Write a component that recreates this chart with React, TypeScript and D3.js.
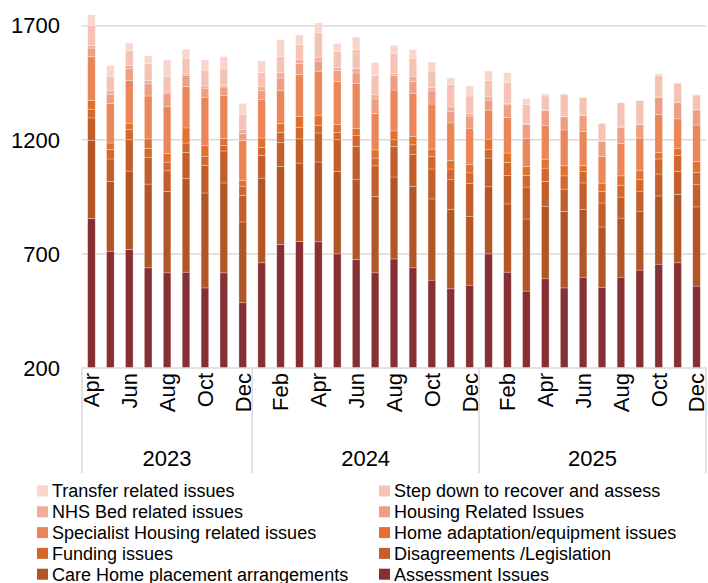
import React from "react";
import * as d3 from "d3";

const months = ["Apr","May","Jun","Jul","Aug","Sep","Oct","Nov","Dec",
  "Jan","Feb","Mar","Apr","May","Jun","Jul","Aug","Sep","Oct","Nov","Dec",
  "Jan","Feb","Mar","Apr","May","Jun","Jul","Aug","Sep","Oct","Nov","Dec"];
const years = [{ label: "2023", count: 9 }, { label: "2024", count: 12 }, { label: "2025", count: 12 }];
const yTicks = [200, 700, 1200, 1700];

const assessment = [855,712,719,639,617,620,551,617,486, 661,741,755,753,700,675,617,678,639,585,547,563, 700,620,537,591,551,598,554,598,629,655,661,559];
const careHome = [343,306,344,367,357,410,416,394,354, 371,343,343,350,362,350,335,359,357,356,347,302, 294,299,316,318,335,296,264,259,258,299,300,347];
const disagreements = [98,98,137,118,90,115,120,140,117, 100,105,106,127,138,146,134,134,141,131,131,143, 126,125,140,109,98,117,105,92,88,96,101,97];
const funding = [36,41,44,39,38,41,41,25,40, 35,44,51,34,32,47,34,29,41,55,47,47, 39,57,51,58,58,51,51,52,51,66,70,55];
const homeAdapt = [41,29,29,41,39,66,48,29,26, 41,38,47,44,36,31,36,39,37,32,37,37, 44,41,39,39,44,25,36,41,38,29,29,47];
const specialist = [192,174,187,188,204,182,211,190,174, 168,146,185,190,187,197,160,179,187,198,165,159, 127,156,124,147,157,150,117,143,144,165,131,160];
const housing = [37,38,51,53,58,48,39,36,31, 39,54,48,47,48,47,63,63,54,57,51,53, 44,55,61,66,58,69,66,70,58,76,71,66];
const nhsBed = [12,17,15,15,10,7,10,7,18, 19,25,18,17,13,19,18,10,22,15,19,12, 14,7,4,3,2,2,2,2,2,2,2,2];
const stepDown = [87,63,66,73,63,69,70,73,66, 61,70,63,109,70,83,85,87,80,73,98,76, 72,90,83,61,96,77,76,105,103,94,83,63];
const transfer = [47,47,32,35,73,39,44,54,48, 51,73,44,41,36,55,57,36,37,39,29,44, 42,44,26,9,4,3,2,2,3,7,2,2];

// bottom to top
const seriesNames = ["Assessment Issues","Care Home placement arrangements","Disagreements /Legislation","Funding issues","Home adaptation/equipment issues","Specialist Housing related issues","Housing Related Issues","NHS Bed related issues","Step down to recover and assess","Transfer related issues"];
const seriesValues = [assessment, careHome, disagreements, funding, homeAdapt, specialist, housing, nhsBed, stepDown, transfer];
const seriesColors = ["#863034","#B35627","#C25F2B","#D2682E","#E2702E","#EB8659","#EE9E82","#F1AD9A","#F4C3B3","#F8D6CD"];
// legend order (row-major, 2 columns)
const legendOrder = [9, 8, 7, 6, 5, 4, 3, 2, 1, 0];

const W = 708, H = 583;
const left = 82, right = 706, bottom = 368;
const FONT = "'Liberation Sans', Arial, sans-serif";

export default function App() {
  const rows = months.map((m, i) => {
    const r: any = { i };
    seriesNames.forEach((n, k) => { r[n] = seriesValues[k][i]; });
    return r;
  });
  const stack = d3.stack().keys(seriesNames)(rows as any);
  const x = d3.scaleBand<number>().domain(months.map((_, i) => i)).range([left, right]).paddingInner(0.6).paddingOuter(0.3);
  const y = d3.scaleLinear().domain([200, 1700]).range([bottom, 25.7]);
  const catW = (right - left) / months.length;

  let acc = 0;
  const groups = years.map((g) => {
    const s = acc;
    acc += g.count;
    return { ...g, x0: left + s * catW, x1: left + acc * catW };
  });

  return (
    <svg width={W} height={H} style={{ position: "absolute", left: 0, top: 0, background: "#fff" }}>
      {yTicks.filter((t) => t > 200).map((t) => (
        <line key={t} x1={left} x2={right} y1={y(t)} y2={y(t)} stroke="#D9D9D9" strokeWidth={1.5} />
      ))}
      {stack.map((s, k) => (
        <g key={k} fill={seriesColors[k]}>
          {s.map((d, i) => {
            const y0 = y(Math.max(200, d[0]));
            const y1 = y(d[1]);
            return (
              <rect key={i} x={x(i)} width={x.bandwidth()} y={y1} height={Math.max(0, y0 - y1)}
                stroke="#ffffff" strokeOpacity={0.45} strokeWidth={0.6} />
            );
          })}
        </g>
      ))}
      <line x1={left} x2={right} y1={bottom} y2={bottom} stroke="#D9D9D9" strokeWidth={1.5} />
      {yTicks.map((t) => (
        <text key={t} x={60} y={y(t)} dy="0.35em" textAnchor="end" fontFamily={FONT} fontSize={22} fill="#000">{t}</text>
      ))}
      {months.map((m, i) => (i % 2 === 0 ? (
        <text key={i} transform={`translate(${(x(i) as number) + x.bandwidth() / 2},373) rotate(-90)`} dy="0.36em"
          textAnchor="end" fontFamily={FONT} fontSize={22} fill="#000">{m}</text>
      ) : null))}
      {groups.map((g) => (
        <text key={g.label} x={(g.x0 + g.x1) / 2} y={458} dy="0.35em" textAnchor="middle" fontFamily={FONT} fontSize={22} fill="#000">{g.label}</text>
      ))}
      {[left, ...groups.map((g) => g.x1)].map((xx, k) => (
        <line key={k} x1={xx} x2={xx} y1={bottom} y2={473} stroke="#D9D9D9" strokeWidth={1.5} />
      ))}
      {legendOrder.map((si, j) => {
        const col = j % 2;
        const row = Math.floor(j / 2);
        const lx = col === 0 ? 37 : 379;
        const ly = 491 + row * 20.8;
        return (
          <g key={si}>
            <rect x={lx} y={ly - 5.5} width={11} height={11} fill={seriesColors[si]} />
            <text x={lx + 15} y={ly} dy="0.35em" fontFamily={FONT} fontSize={18} fill="#000">{seriesNames[si]}</text>
          </g>
        );
      })}
    </svg>
  );
}
